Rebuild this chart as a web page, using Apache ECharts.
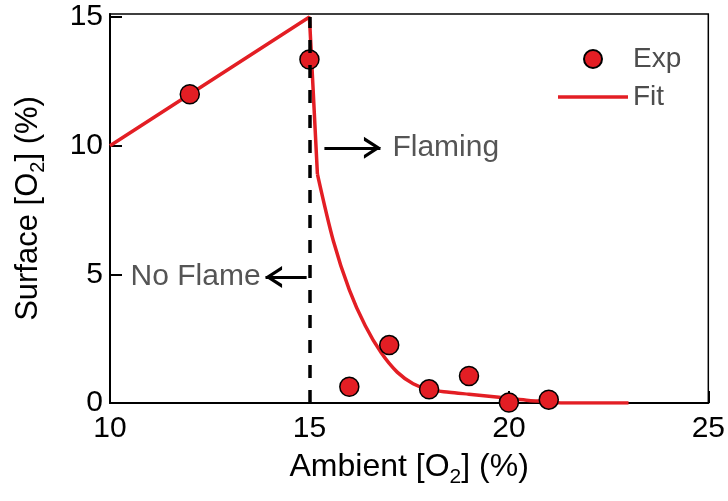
<!DOCTYPE html>
<html>
<head>
<meta charset="utf-8">
<script src="https://cdn.jsdelivr.net/npm/echarts@6/dist/echarts.min.js"></script>
<style>
html,body{margin:0;padding:0;background:#fff;}
#chart{width:728px;height:501px;}
</style>
</head>
<body>
<div id="chart"></div>
<script>
// Experimental points
const expX = [12, 15, 16, 17, 18, 19, 20, 21];
const expY = [12.0, 13.35, 0.63, 2.25, 0.53, 1.05, 0.02, 0.13];
// Fit curve: linear part (no flame) and decay part (flaming)
const fitLinX = [10, 15, 15.2];
const fitLinY = [10, 15, 8.9];
const fitDecX = [15.2, 15.6, 16.0, 16.4, 16.8, 17.2, 17.6, 18.0, 18.5, 19.0, 19.5, 20.0, 20.5, 21.0, 21.3, 22, 23];
const fitDecY = [8.9, 6.3, 4.4, 3.0, 1.95, 1.2, 0.75, 0.52, 0.42, 0.34, 0.26, 0.18, 0.1, 0.05, 0, 0, 0];
// Axis ticks
const xTicks = [10, 15, 20, 25];
const yTicks = [0, 5, 10, 15];
// Threshold and annotations
const threshold = 15;
const flamingArrow = [[15.375, 9.92], [16.78, 9.92]];
const noFlameArrow = [[14.93, 4.9], [13.9, 4.9]];

const RED = '#e31e24';
const FONT = 'Liberation Sans, Arial, Helvetica, sans-serif';
const chevron = 'path://M0,16 L10,0 L20,16 L16.5,16 L10,5.5 L3.5,16 Z';

const chart = echarts.init(document.getElementById('chart'), null, {renderer: 'canvas'});
const option = {
  animation: false,
  backgroundColor: '#fff',
  textStyle: {fontFamily: FONT},
  grid: {left: 110, right: 18, top: 14, bottom: 98, show: true, borderColor: '#000', borderWidth: 1.5, backgroundColor: 'transparent'},
  legend: {
    data: [
      {name: 'Exp'},
      {name: 'Fit', icon: 'path://M0,0 L70,0 L70,3.5 L0,3.5 Z', itemStyle: {color: RED}}
    ],
    orient: 'vertical',
    left: 558, top: 45,
    itemWidth: 70, itemHeight: 18, itemGap: 10,
    padding: 0,
    textStyle: {fontSize: 28, color: '#4d4d4d', fontFamily: FONT}
  },
  xAxis: {
    type: 'value', min: 10, max: 25, interval: 5,
    name: 'Ambient [O{sub|2}] (%)',
    nameLocation: 'middle', nameGap: 44,
    nameTextStyle: {fontSize: 32, color: '#000', fontFamily: FONT,
      rich: {sub: {fontSize: 21, verticalAlign: 'bottom', padding: [20, 0, 0, 0], fontFamily: FONT, color: '#000'}}},
    axisLine: {show: true, onZero: false, lineStyle: {color: '#000', width: 2}},
    axisTick: {show: true, inside: true, length: 12, lineStyle: {color: '#000', width: 2}, customValues: xTicks},
    axisLabel: {fontSize: 30, color: '#000', margin: 11, fontFamily: FONT, customValues: xTicks},
    splitLine: {show: false}
  },
  yAxis: {
    type: 'value', min: 0, max: 15.12,
    name: 'Surface [O{sub|2}] (%)',
    nameLocation: 'middle', nameGap: 62, nameRotate: 90,
    nameTextStyle: {fontSize: 31, color: '#000', fontFamily: FONT,
      rich: {sub: {fontSize: 20, verticalAlign: 'bottom', padding: [20, 0, 0, 0], fontFamily: FONT, color: '#000'}}},
    axisLine: {show: true, onZero: false, lineStyle: {color: '#000', width: 2}},
    axisTick: {show: true, inside: true, length: 12, lineStyle: {color: '#000', width: 2}, customValues: yTicks},
    axisLabel: {fontSize: 30, color: '#000', margin: 7, fontFamily: FONT, customValues: yTicks},
    splitLine: {show: false}
  },
  series: [
    {
      name: 'threshold', type: 'line', data: [], z: 1, silent: true,
      markLine: {
        silent: true, animation: false, symbol: 'none',
        lineStyle: {color: '#000', width: 3.5, type: [13, 12]},
        label: {show: false},
        data: [[{coord: [threshold, 0]}, {coord: [threshold, 15]}]]
      }
    },
    {
      name: 'arrows', type: 'line', data: [], z: 5, silent: true,
      markLine: {
        silent: true, animation: false,
        symbol: ['none', chevron], symbolSize: [22, 17], symbolOffset: [0, [0, 8]],
        lineStyle: {color: '#000', width: 3, type: 'solid'},
        data: [
          [{coord: flamingArrow[0], label: {show: true, position: 'end', formatter: 'Flaming', fontSize: 30, color: '#555', distance: 12, fontFamily: FONT}},
           {coord: flamingArrow[1]}],
          [{coord: noFlameArrow[0], label: {show: true, position: 'end', formatter: 'No Flame', fontSize: 30, color: '#555', distance: 5, fontFamily: FONT}},
           {coord: noFlameArrow[1]}]
        ]
      }
    },
    {
      name: 'Fit', type: 'line', z: 3,
      data: fitLinX.map((x, i) => [x, fitLinY[i]]),
      symbol: 'none',
      lineStyle: {color: RED, width: 3.5},
      itemStyle: {color: RED}
    },
    {
      name: 'Fit', type: 'line', z: 3,
      data: fitDecX.map((x, i) => [x, fitDecY[i]]),
      symbol: 'none', smooth: 0.3,
      lineStyle: {color: RED, width: 3.5},
      itemStyle: {color: RED}
    },
    {
      name: 'Exp', type: 'scatter', z: 4,
      data: expX.map((x, i) => [x, expY[i]]),
      symbol: 'circle', symbolSize: 19,
      itemStyle: {color: RED, borderColor: '#000', borderWidth: 1.5, opacity: 1}
    }
  ]
};
chart.setOption(option);
</script>
</body>
</html>
